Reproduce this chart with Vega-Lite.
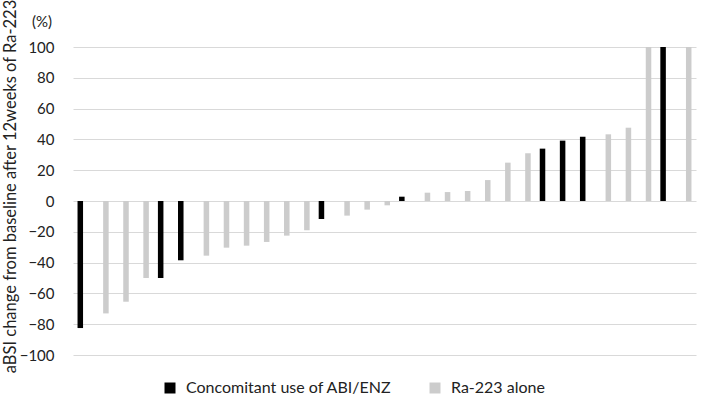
{
  "$schema": "https://vega.github.io/schema/vega-lite/v6.json",
  "autosize": "none",
  "width": 623,
  "height": 308,
  "padding": {"left": 73, "top": 47, "right": 13, "bottom": 57},
  "background": "white",
  "title": {"text": "(%)", "anchor": "start", "frame": "group", "dx": -41, "dy": 43, "offset": 0, "baseline": "alphabetic", "fontSize": 15, "font": "Lato", "fontWeight": "normal", "color": "#222222"},
  "config": {
    "view": {"stroke": null},
    "font": "Lato"
  },
  "data": {"values": [
    {"id": 1, "value": -82.5, "group": "Concomitant use of ABI/ENZ"},
    {"id": 2, "value": -73, "group": "Ra-223 alone"},
    {"id": 3, "value": -65.4, "group": "Ra-223 alone"},
    {"id": 4, "value": -50, "group": "Ra-223 alone"},
    {"id": 5, "value": -50, "group": "Concomitant use of ABI/ENZ"},
    {"id": 6, "value": -38.5, "group": "Concomitant use of ABI/ENZ"},
    {"id": 7, "value": -35.5, "group": "Ra-223 alone"},
    {"id": 8, "value": -30.3, "group": "Ra-223 alone"},
    {"id": 9, "value": -29, "group": "Ra-223 alone"},
    {"id": 10, "value": -26.6, "group": "Ra-223 alone"},
    {"id": 11, "value": -22.5, "group": "Ra-223 alone"},
    {"id": 12, "value": -19, "group": "Ra-223 alone"},
    {"id": 13, "value": -11.7, "group": "Concomitant use of ABI/ENZ"},
    {"id": 14, "value": -9.5, "group": "Ra-223 alone"},
    {"id": 15, "value": -5.6, "group": "Ra-223 alone"},
    {"id": 16, "value": -2.8, "group": "Ra-223 alone"},
    {"id": 17, "value": 2.8, "group": "Concomitant use of ABI/ENZ"},
    {"id": 18, "value": 5.4, "group": "Ra-223 alone"},
    {"id": 19, "value": 5.8, "group": "Ra-223 alone"},
    {"id": 20, "value": 6.5, "group": "Ra-223 alone"},
    {"id": 21, "value": 13.6, "group": "Ra-223 alone"},
    {"id": 22, "value": 24.9, "group": "Ra-223 alone"},
    {"id": 23, "value": 31, "group": "Ra-223 alone"},
    {"id": 24, "value": 34, "group": "Concomitant use of ABI/ENZ"},
    {"id": 25, "value": 39.2, "group": "Concomitant use of ABI/ENZ"},
    {"id": 26, "value": 41.8, "group": "Concomitant use of ABI/ENZ"},
    {"id": 27, "value": 43.3, "group": "Ra-223 alone"},
    {"id": 28, "value": 47.6, "group": "Ra-223 alone"},
    {"id": 29, "value": 100, "group": "Ra-223 alone"},
    {"id": 30, "value": 100, "group": "Concomitant use of ABI/ENZ"},
    {"id": 31, "value": 100, "group": "Ra-223 alone"}
  ]},
  "mark": {"type": "bar"},
  "encoding": {
    "x": {"field": "id", "type": "ordinal", "axis": null, "scale": {"paddingInner": 0.45, "paddingOuter": 0.225}},
    "xOffset": {"field": "group", "type": "nominal", "scale": {"domain": ["Concomitant use of ABI/ENZ", "Ra-223 alone"], "paddingInner": 0}},
    "y": {
      "field": "value", "type": "quantitative",
      "scale": {"domain": [-100, 100], "nice": false},
      "axis": {
        "values": [-100, -80, -60, -40, -20, 0, 20, 40, 60, 80, 100],
        "title": "aBSI change from baseline after 12weeks of Ra-223",
        "titleFont": "Lato", "titleFontSize": 16.5, "titleFontWeight": "normal", "titleColor": "#222222",
        "titleX": -55, "titleY": 139,
        "labelFont": "Lato", "labelFontSize": 15, "labelColor": "#222222", "labelPadding": 19,
        "domain": false, "ticks": false,
        "grid": true, "gridColor": "#d9d9d9", "gridWidth": 1
      }
    },
    "color": {
      "field": "group", "type": "nominal",
      "scale": {"domain": ["Concomitant use of ABI/ENZ", "Ra-223 alone"], "range": ["#000000", "#cccccc"]},
      "legend": {
        "title": null, "orient": "none", "direction": "horizontal",
        "legendX": 89, "legendY": 333,
        "symbolType": "square", "symbolSize": 121, "symbolStrokeWidth": 0,
        "labelFont": "Lato", "labelFontSize": 16, "labelColor": "#222222", "labelOffset": 8, "labelLimit": 0,
        "columnPadding": 35
      }
    }
  }
}
